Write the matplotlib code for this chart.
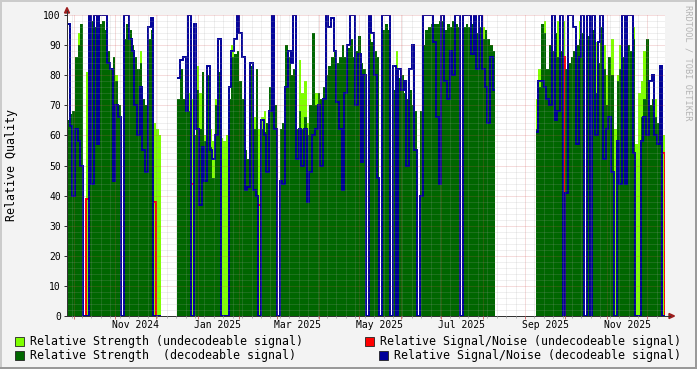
import numpy as np
import matplotlib
matplotlib.use('Agg')
import matplotlib.pyplot as plt
import matplotlib.dates as mdates
import matplotlib.transforms as mtransforms
from matplotlib.patches import Rectangle, Polygon
from matplotlib.ticker import NullFormatter
from datetime import date, timedelta

nan = np.nan

# one value every 2 days, starting at the left edge of the graph
start = date(2024, 9, 26)
step_days = 2

strength_dec = [
    65, 67, 68, 86, 90, 97, 0, 0, 96, 98,
    96, 93, 97, 98, 95, 88, 82, 86, 78, 70,
    0, 92, 97, 95, 90, 86, 82, 84, 72, 70,
    92, 95, 0, 0, 0, nan, nan, nan, nan, nan,
    nan, 72, 82, 72, 70, 68, 0, 60, 75, 62,
    81, 58, 80, 56, 46, 70, 81, 0, 0, 0,
    72, 86, 87, 88, 78, 72, 55, 52, 83, 62,
    82, 0, 62, 61, 64, 76, 82, 70, 0, 62,
    64, 90, 86, 80, 82, 62, 68, 62, 66, 60,
    70, 94, 70, 74, 72, 76, 80, 83, 86, 88,
    84, 86, 90, 86, 89, 92, 86, 88, 93, 84,
    82, 0, 92, 91, 88, 86, 0, 95, 97, 95,
    0, 75, 60, 79, 80, 74, 72, 75, 70, 68,
    0, 68, 90, 95, 96, 97, 97, 97, 98, 98,
    95, 97, 96, 98, 97, 96, 0, 96, 97, 96,
    97, 97, 94, 96, 92, 95, 92, 90, 88, nan,
    nan, nan, nan, nan, nan, nan, nan, nan, nan, nan,
    nan, nan, nan, nan, 62, 76, 97, 94, 82, 90,
    88, 94, 86, 88, 0, 82, 84, 86, 88, 90,
    92, 94, 0, 93, 0, 95, 74, 84, 96, 82,
    70, 86, 80, 0, 78, 82, 86, 84, 90, 88,
    92, 0, 0, 66, 72, 92, 70, 72, 66, 64,
    78, 0,
]

strength_undec = [
    0, 0, 0, 0, 94, 0, 0, 81, 0, 0,
    0, 0, 0, 0, 0, 0, 0, 0, 80, 0,
    0, 0, 0, 0, 0, 0, 0, 88, 0, 0,
    0, 0, 64, 62, 60, nan, nan, nan, nan, nan,
    nan, 0, 0, 0, 0, 74, 72, 0, 83, 74,
    0, 60, 0, 62, 58, 72, 0, 59, 58, 60,
    0, 90, 0, 0, 0, 0, 0, 0, 0, 66,
    0, 62, 66, 68, 0, 0, 0, 0, 0, 0,
    0, 0, 0, 0, 0, 0, 85, 74, 78, 64,
    0, 0, 74, 0, 0, 0, 0, 0, 0, 0,
    0, 0, 0, 0, 0, 0, 0, 0, 0, 0,
    0, 0, 94, 0, 0, 0, 0, 0, 0, 0,
    0, 0, 88, 0, 0, 0, 0, 0, 0, 0,
    0, 0, 0, 0, 0, 0, 0, 0, 0, 0,
    0, 0, 0, 0, 0, 0, 0, 0, 0, 0,
    0, 0, 0, 0, 96, 0, 0, 0, 0, nan,
    nan, nan, nan, nan, nan, nan, nan, nan, nan, nan,
    nan, nan, nan, nan, 72, 82, 0, 98, 0, 0,
    0, 0, 98, 0, 98, 0, 0, 0, 0, 0,
    98, 0, 0, 0, 60, 0, 91, 0, 0, 90,
    80, 0, 92, 62, 80, 90, 0, 0, 0, 0,
    96, 57, 74, 78, 88, 0, 0, 0, 72, 0,
    0, 60,
]

snr_dec = [
    97, 63, 40, 62, 58, 50, 0, 0, 100, 44,
    100, 57, 100, 100, 100, 84, 82, 45, 70, 66,
    0, 100, 100, 92, 88, 70, 60, 76, 55, 48,
    96, 99, 0, 0, 0, nan, nan, nan, nan, nan,
    nan, 79, 85, 86, 68, 100, 0, 97, 62, 37,
    56, 45, 83, 55, 52, 60, 92, 0, 0, 0,
    76, 88, 92, 100, 94, 86, 42, 43, 84, 42,
    40, 0, 65, 60, 48, 68, 100, 62, 0, 45,
    44, 76, 88, 84, 100, 52, 62, 50, 62, 38,
    48, 60, 62, 70, 50, 72, 100, 96, 99, 88,
    71, 62, 42, 74, 90, 100, 100, 70, 87, 51,
    80, 0, 100, 94, 80, 46, 0, 100, 100, 100,
    0, 83, 0, 82, 75, 78, 50, 82, 90, 55,
    0, 40, 100, 100, 100, 100, 91, 66, 44, 100,
    78, 72, 88, 80, 100, 100, 0, 100, 100, 100,
    87, 100, 82, 100, 82, 76, 64, 86, 75, nan,
    nan, nan, nan, nan, nan, nan, nan, nan, nan, nan,
    nan, nan, nan, nan, 61, 78, 78, 76, 72, 70,
    100, 65, 68, 100, 0, 41, 100, 100, 96, 57,
    86, 100, 0, 100, 0, 100, 60, 91, 100, 52,
    62, 66, 48, 0, 58, 44, 100, 44, 100, 100,
    54, 0, 0, 58, 66, 60, 78, 80, 60, 57,
    83, 0,
]

# undecodeable signal/noise only shows up on a few days
snr_undec_days = ['2024-10-10', '2024-11-29', '2024-12-27', '2025-02-15', '2025-09-29', '2025-12-12']
snr_undec_vals = [39, 38, 44, 37, 86, 54]

label_months = [date(2024, 11, 1), date(2025, 1, 1), date(2025, 3, 1), date(2025, 5, 1),
                date(2025, 7, 1), date(2025, 9, 1), date(2025, 11, 1)]

n = len(strength_dec)
edges = mdates.date2num([start + timedelta(days=step_days * k) for k in range(n + 1)])

snr_undec = np.full(n, nan)
for d, v in zip(snr_undec_days, snr_undec_vals):
    snr_undec[(date.fromisoformat(d) - start).days // step_days] = v

W, H = 697, 369
font = 'DejaVu Sans Mono'


def fx(x):
    return x / W


def fy(y):
    return 1 - y / H


fig = plt.figure(figsize=(W / 100, H / 100), dpi=100, facecolor='#F3F3F3')
ax = fig.add_axes([fx(67), fy(316), (665 - 67) / W, (316 - 15) / H])
ax.set_facecolor('white')

ax.stairs(np.array(strength_undec, float), edges, fill=True, color='#7FFF00', baseline=0, zorder=1)
ax.stairs(snr_undec, edges, baseline=0, color='#FF0000', linewidth=1.4, zorder=1.2)
ax.stairs(np.array(strength_dec, float), edges, fill=True, color='#006600', baseline=0, zorder=1.3)
ax.stairs(np.array(snr_dec, float), edges, baseline=None, color='#000099', linewidth=1.4, zorder=1.5)

ax.set_xlim(edges[0], edges[-1])
ax.set_ylim(0, 100)

# grid (drawn over the data, faint)
ax.xaxis.set_major_locator(mdates.MonthLocator())
ax.xaxis.set_minor_locator(mdates.WeekdayLocator(byweekday=mdates.MO))
ax.xaxis.set_major_formatter(NullFormatter())
ax.set_yticks(range(0, 101, 10))
ax.set_yticks(range(0, 101, 2), minor=True)
ax.grid(which='minor', color='#A8A8A8', linestyle=(0, (1, 1)), linewidth=0.72, alpha=0.35)
ax.grid(which='major', color='#D05050', linestyle=(0, (1, 1)), linewidth=0.72, alpha=0.4)
ax.set_axisbelow(False)

ax.tick_params(axis='x', which='major', length=2.5, width=0.72, color='#D07070')
ax.tick_params(axis='x', which='minor', length=1.5, width=0.72, color='#B0B0B0')
ax.tick_params(axis='y', which='major', length=2.5, width=0.72, color='#333333',
               labelsize=7, pad=2)
ax.tick_params(axis='y', which='minor', length=0)
for lab in ax.get_yticklabels():
    lab.set_family(font)

for s in ['top', 'right']:
    ax.spines[s].set_visible(False)
for s in ['left', 'bottom']:
    ax.spines[s].set_color('#333333')
    ax.spines[s].set_linewidth(0.72)

# month labels sit in the middle of the first half of the month like rrdtool does
xtr = mtransforms.blended_transform_factory(ax.transData, fig.transFigure)
for m in label_months:
    ax.text(mdates.date2num(m + timedelta(days=15)), fy(325), m.strftime('%b %Y'),
            transform=xtr, ha='center', va='center', family=font, fontsize=7)

# axis extensions and arrows
fig.add_artist(plt.Line2D([fx(67), fx(67)], [fy(316), fy(11)], color='#333333', lw=0.72))
fig.add_artist(plt.Line2D([fx(665), fx(670)], [fy(316), fy(316)], color='#333333', lw=0.72))
fig.add_artist(Polygon([[fx(67), fy(7.5)], [fx(64.5), fy(13)], [fx(69.5), fy(13)]],
                       closed=True, color='#9B1C1C', transform=fig.transFigure))
fig.add_artist(Polygon([[fx(674.5), fy(316)], [fx(669), fy(313.5)], [fx(669), fy(318.5)]],
                       closed=True, color='#9B1C1C', transform=fig.transFigure))

fig.text(fx(12), fy(165), 'Relative Quality', rotation=90, ha='center', va='center',
         family=font, fontsize=8.4)
fig.text(fx(688), fy(5), 'RRDTOOL / TOBI OETIKER', rotation=270, ha='center', va='top',
         family=font, fontsize=6.2, color='#B4B4B4')

# legend
legend = [
    ('#7FFF00', 15, 341.5, 'Relative Strength (undecodeable signal)', 30),
    ('#FF0000', 365, 341.5, 'Relative Signal/Noise (undecodeable signal)', 380),
    ('#006600', 15, 355, 'Relative Strength  (decodeable signal)', 30),
    ('#000099', 379, 355, 'Relative Signal/Noise (decodeable signal)', 394),
]
for col, bx, cy, txt, tx in legend:
    fig.add_artist(Rectangle((fx(bx), fy(cy + 4.5)), 9 / W, 9 / H, transform=fig.transFigure,
                             facecolor=col, edgecolor='#222222', linewidth=0.6))
    fig.text(fx(tx), fy(cy), txt, ha='left', va='center', family=font, fontsize=8.35)

# 3d frame
fig.add_artist(Rectangle((0, fy(2)), 1, 2 / H, transform=fig.transFigure, color='#CBCBCB', lw=0))
fig.add_artist(Rectangle((0, 0), 2 / W, 1, transform=fig.transFigure, color='#CBCBCB', lw=0))
fig.add_artist(Rectangle((0, 0), 1, 2 / H, transform=fig.transFigure, color='#999999', lw=0))
fig.add_artist(Rectangle((fx(695), 0), 2 / W, 1, transform=fig.transFigure, color='#999999', lw=0))

fig.savefig('out.png', dpi=100, facecolor=fig.get_facecolor())
